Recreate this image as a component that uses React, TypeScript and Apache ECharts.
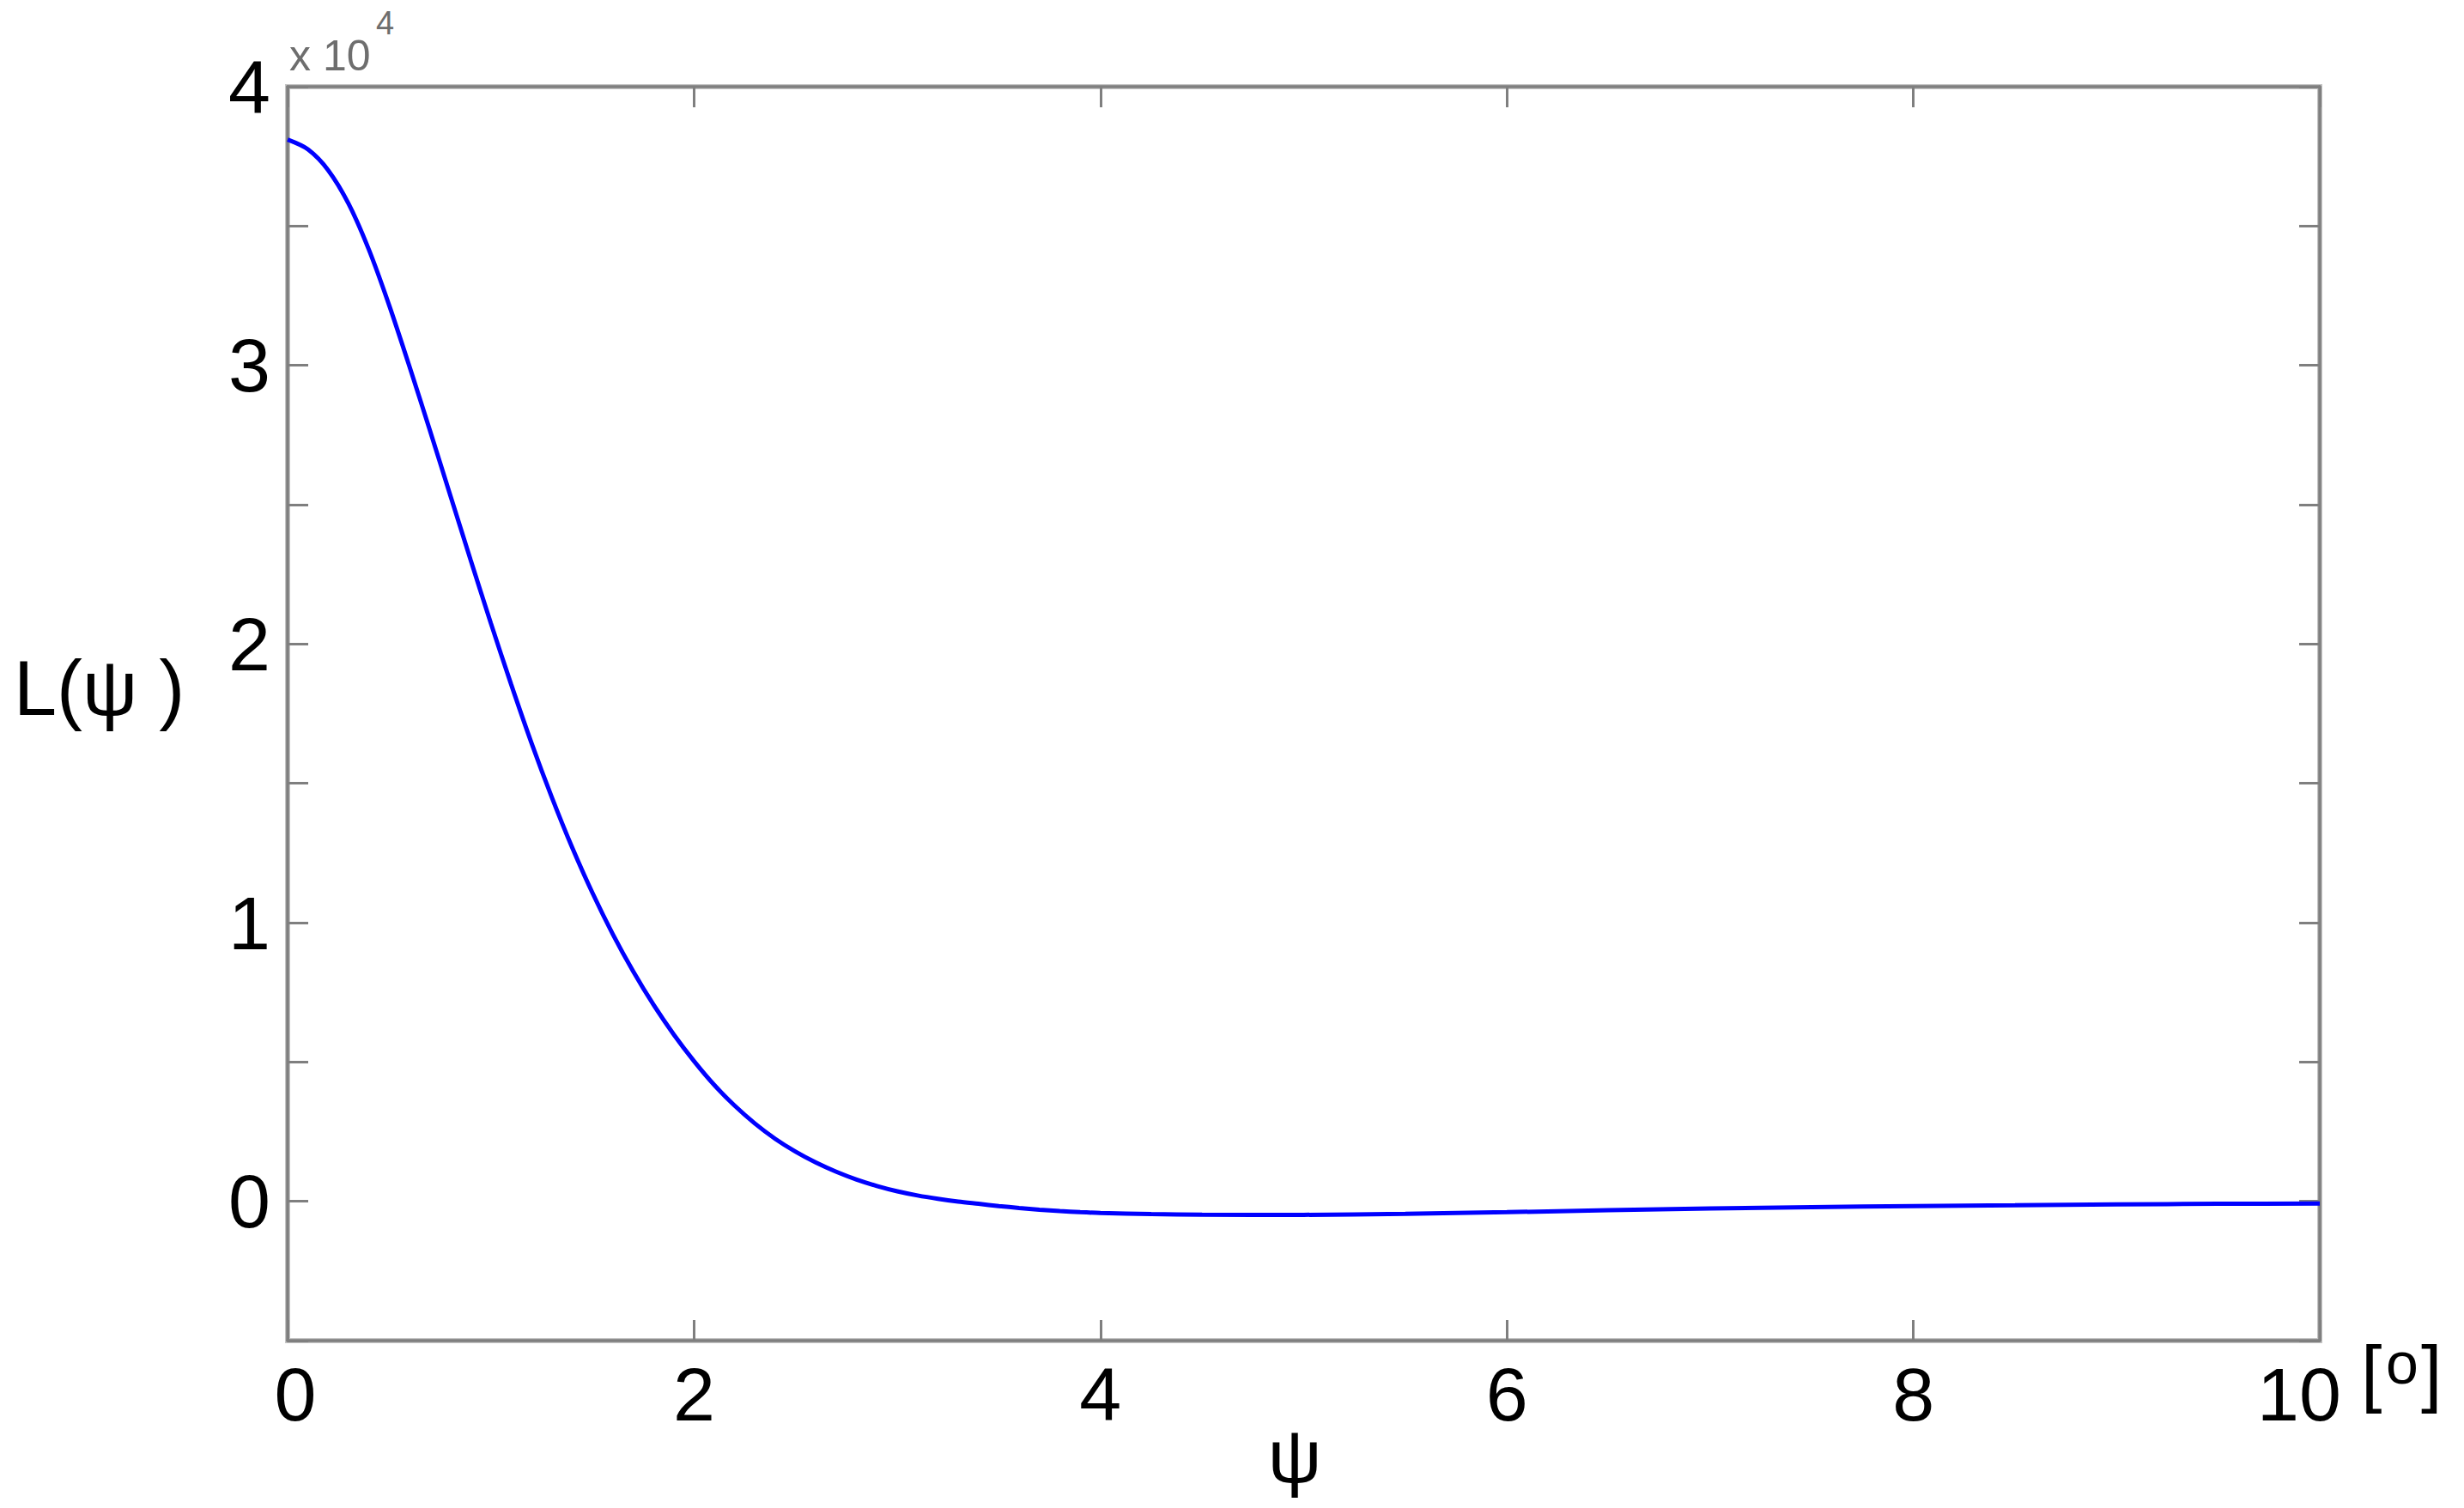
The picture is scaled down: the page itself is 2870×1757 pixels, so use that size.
import React, { useEffect, useRef } from "react";
import * as echarts from "echarts";

// psi in degrees
const psiValues: number[] = [
  0, 0.1, 0.2, 0.3, 0.4, 0.5, 0.6, 0.7, 0.8, 0.9, 1.0, 1.1, 1.2, 1.3, 1.4, 1.5,
  1.6, 1.7, 1.8, 1.9, 2.0, 2.1, 2.2, 2.3, 2.4, 2.5, 2.6, 2.7, 2.8, 2.9, 3.0,
  3.1, 3.2, 3.3, 3.4, 3.5, 3.6, 3.7, 3.8, 3.9, 4.0, 4.25, 4.5, 5.0, 5.5, 6.0,
  6.5, 7.0, 7.5, 8.0, 8.5, 9.0, 9.5, 10,
];
// L(psi), raw values
const lValues: number[] = [
  38100, 37750, 37000, 35800, 34150, 32150, 29950, 27670, 25350, 23030, 20750,
  18550, 16450, 14500, 12700, 11070, 9590, 8260, 7060, 5990, 5030, 4170, 3430,
  2790, 2240, 1780, 1390, 1060, 780, 550, 360, 210, 90, -10, -90, -170, -240,
  -300, -350, -390, -420, -460, -480, -485, -450, -390, -320, -260, -210, -170,
  -140, -110, -90, -80,
];
const xTicks = { min: 0, max: 10, interval: 2 };
const yTicks = { min: -5000, max: 40000, interval: 5000, labelStep: 10000 };
const xName = "ψ";
const yName = "L(ψ )";
const unitParts = ["[", "o", "]"];
const scaleText = "x 10";
const scaleExp = "4";

const FONT = "'Liberation Sans', Arial, Helvetica, sans-serif";
const AXIS_DARK = "#7f7f7f";

export default function App() {
  const ref = useRef<HTMLDivElement>(null);

  useEffect(() => {
    if (!ref.current) return;
    const chart = echarts.init(ref.current, null, { renderer: "svg" });

    const tickCommon = {
      show: true,
      inside: true,
      length: 24,
      lineStyle: { color: AXIS_DARK, width: 3 },
    };
    const lineCommon = {
      show: true,
      onZero: false,
      lineStyle: { color: AXIS_DARK, width: 3.5 },
    };
    const labelBase = { fontSize: 88, color: "#000", fontFamily: FONT };

    const option: any = {
      animation: false,
      backgroundColor: "#ffffff",
      grid: {
        left: 335,
        right: 168,
        top: 101,
        bottom: 195,
        show: true,
        borderColor: "#c4c4c4",
        borderWidth: 6,
        backgroundColor: "transparent",
      },
      xAxis: [
        {
          type: "value",
          position: "bottom",
          min: xTicks.min,
          max: xTicks.max,
          interval: xTicks.interval,
          axisLine: lineCommon,
          axisTick: tickCommon,
          splitLine: { show: false },
          axisLabel: {
            margin: 18,
            ...labelBase,
            formatter: (v: number) =>
              v === xTicks.min
                ? `{first|${v}}`
                : v === xTicks.max
                ? `{last|${v}}`
                : `{n|${v}}`,
            rich: {
              n: { ...labelBase },
              first: { ...labelBase, padding: [0, 0, 0, 18] },
              last: { ...labelBase, padding: [0, 48, 0, 0] },
            },
          },
        },
        {
          type: "value",
          position: "top",
          min: xTicks.min,
          max: xTicks.max,
          interval: xTicks.interval,
          axisLine: lineCommon,
          axisTick: tickCommon,
          splitLine: { show: false },
          axisLabel: { show: false },
        },
      ],
      yAxis: [
        {
          type: "value",
          position: "left",
          min: yTicks.min,
          max: yTicks.max,
          interval: yTicks.interval,
          axisLine: lineCommon,
          axisTick: tickCommon,
          splitLine: { show: false },
          axisLabel: {
            margin: 20,
            ...labelBase,
            formatter: (v: number) =>
              v >= 0 && Math.abs(v % yTicks.labelStep) < 1e-6
                ? String(v / yTicks.labelStep)
                : "",
          },
        },
        {
          type: "value",
          position: "right",
          min: yTicks.min,
          max: yTicks.max,
          interval: yTicks.interval,
          axisLine: lineCommon,
          axisTick: tickCommon,
          splitLine: { show: false },
          axisLabel: { show: false },
        },
      ],
      series: [
        {
          type: "line",
          xAxisIndex: 0,
          yAxisIndex: 0,
          data: psiValues.map((x, i) => [x, lValues[i]]),
          showSymbol: false,
          smooth: 0.3,
          lineStyle: { color: "#0000ff", width: 5 },
          itemStyle: { color: "#0000ff" },
        },
      ],
      graphic: [
        {
          type: "text",
          left: 16,
          top: 757,
          style: { text: yName, fontSize: 90, fontFamily: FONT, fill: "#000" },
        },
        {
          type: "text",
          x: 1508,
          y: 1652,
          style: {
            text: xName,
            fontSize: 88,
            fontFamily: FONT,
            fill: "#000",
            align: "center",
            verticalAlign: "top",
          },
        },
        {
          type: "text",
          left: 337,
          top: 40,
          style: {
            text: scaleText,
            fontSize: 50,
            fontFamily: FONT,
            fill: "#6e6e6e",
          },
        },
        {
          type: "text",
          left: 438,
          top: 8,
          style: {
            text: scaleExp,
            fontSize: 38,
            fontFamily: FONT,
            fill: "#6e6e6e",
          },
        },
        {
          type: "text",
          left: 2750,
          top: 1554,
          style: { text: unitParts[0], fontSize: 88, fontFamily: FONT, fill: "#000" },
        },
        {
          type: "text",
          left: 2779,
          top: 1554,
          style: { text: unitParts[1], fontSize: 68, fontFamily: FONT, fill: "#000" },
        },
        {
          type: "text",
          left: 2820,
          top: 1554,
          style: { text: unitParts[2], fontSize: 88, fontFamily: FONT, fill: "#000" },
        },
      ],
    };

    chart.setOption(option);
    return () => chart.dispose();
  }, []);

  return (
    <div
      ref={ref}
      style={{
        position: "fixed",
        left: 0,
        top: 0,
        width: 2870,
        height: 1757,
        background: "#fff",
      }}
    />
  );
}
